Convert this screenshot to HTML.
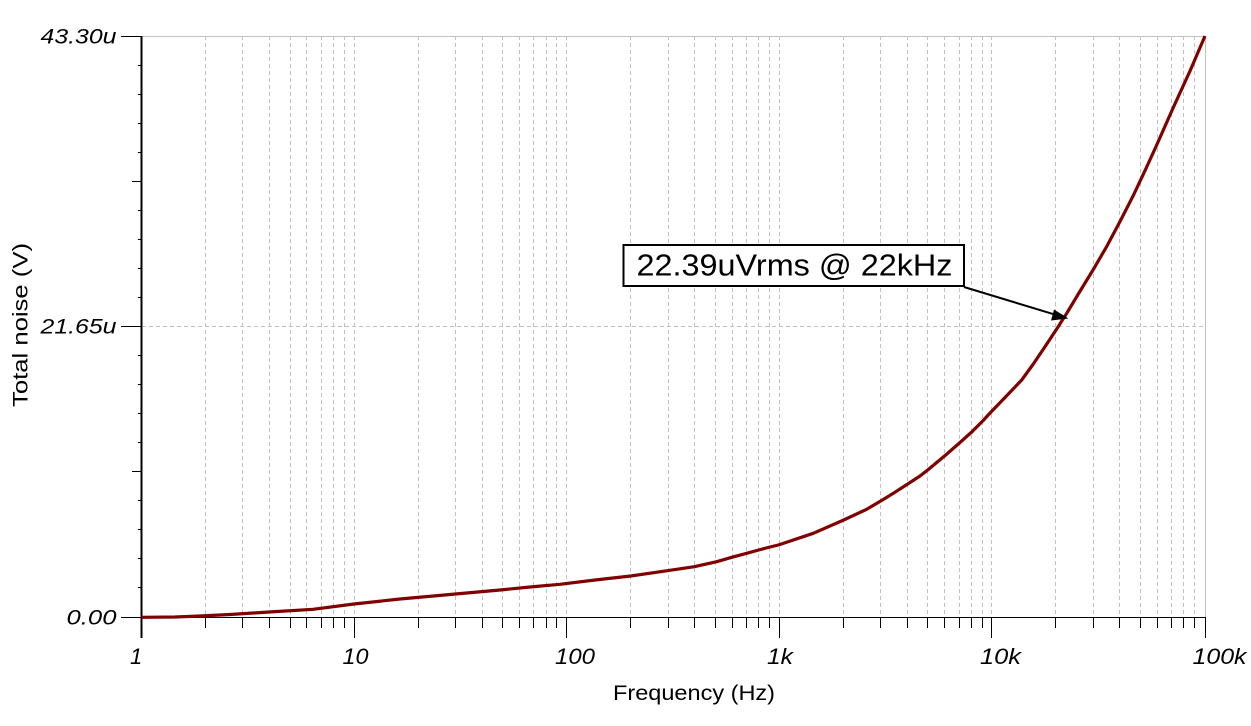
<!DOCTYPE html>
<html>
<head>
<meta charset="utf-8">
<style>
html,body{margin:0;padding:0;background:#fff;}
svg{display:block;}
text{font-family:"Liberation Sans",Arial,sans-serif;fill:#000;}
.tl{font-style:italic;font-size:22px;}
.yl{font-style:italic;font-size:21.5px;}
.ttl{font-size:21px;}
.grid line{stroke:#c0c0c0;stroke-width:1;stroke-dasharray:4 3;}
.tk line{stroke:#000;stroke-width:1;}
</style>
</head>
<body>
<svg width="1251" height="726" viewBox="0 0 1251 726" xmlns="http://www.w3.org/2000/svg" shape-rendering="crispEdges">
<rect x="0" y="0" width="1251" height="726" fill="#fff"/>
<g class="grid">
<line x1="205.5" y1="36" x2="205.5" y2="617"/>
<line x1="242.5" y1="36" x2="242.5" y2="617"/>
<line x1="269.5" y1="36" x2="269.5" y2="617"/>
<line x1="290.5" y1="36" x2="290.5" y2="617"/>
<line x1="306.5" y1="36" x2="306.5" y2="617"/>
<line x1="321.5" y1="36" x2="321.5" y2="617"/>
<line x1="333.5" y1="36" x2="333.5" y2="617"/>
<line x1="344.5" y1="36" x2="344.5" y2="617"/>
<line x1="354.5" y1="36" x2="354.5" y2="617"/>
<line x1="418.5" y1="36" x2="418.5" y2="617"/>
<line x1="455.5" y1="36" x2="455.5" y2="617"/>
<line x1="482.5" y1="36" x2="482.5" y2="617"/>
<line x1="502.5" y1="36" x2="502.5" y2="617"/>
<line x1="519.5" y1="36" x2="519.5" y2="617"/>
<line x1="533.5" y1="36" x2="533.5" y2="617"/>
<line x1="546.5" y1="36" x2="546.5" y2="617"/>
<line x1="556.5" y1="36" x2="556.5" y2="617"/>
<line x1="566.5" y1="36" x2="566.5" y2="617"/>
<line x1="630.5" y1="36" x2="630.5" y2="617"/>
<line x1="668.5" y1="36" x2="668.5" y2="617"/>
<line x1="694.5" y1="36" x2="694.5" y2="617"/>
<line x1="715.5" y1="36" x2="715.5" y2="617"/>
<line x1="732.5" y1="36" x2="732.5" y2="617"/>
<line x1="746.5" y1="36" x2="746.5" y2="617"/>
<line x1="758.5" y1="36" x2="758.5" y2="617"/>
<line x1="769.5" y1="36" x2="769.5" y2="617"/>
<line x1="779.5" y1="36" x2="779.5" y2="617"/>
<line x1="843.5" y1="36" x2="843.5" y2="617"/>
<line x1="880.5" y1="36" x2="880.5" y2="617"/>
<line x1="907.5" y1="36" x2="907.5" y2="617"/>
<line x1="927.5" y1="36" x2="927.5" y2="617"/>
<line x1="944.5" y1="36" x2="944.5" y2="617"/>
<line x1="959.5" y1="36" x2="959.5" y2="617"/>
<line x1="971.5" y1="36" x2="971.5" y2="617"/>
<line x1="982.5" y1="36" x2="982.5" y2="617"/>
<line x1="991.5" y1="36" x2="991.5" y2="617"/>
<line x1="1055.5" y1="36" x2="1055.5" y2="617"/>
<line x1="1093.5" y1="36" x2="1093.5" y2="617"/>
<line x1="1119.5" y1="36" x2="1119.5" y2="617"/>
<line x1="1140.5" y1="36" x2="1140.5" y2="617"/>
<line x1="1157.5" y1="36" x2="1157.5" y2="617"/>
<line x1="1171.5" y1="36" x2="1171.5" y2="617"/>
<line x1="1183.5" y1="36" x2="1183.5" y2="617"/>
<line x1="1194.5" y1="36" x2="1194.5" y2="617"/>
<line x1="142" y1="326.5" x2="1205" y2="326.5"/>
</g>
<line x1="141" y1="36.5" x2="1205.5" y2="36.5" stroke="#c0c0c0" stroke-width="1"/>
<line x1="1205.5" y1="36" x2="1205.5" y2="617" stroke="#c0c0c0" stroke-width="1"/>
<line x1="141.5" y1="36" x2="141.5" y2="638" stroke="#000" stroke-width="2"/>
<line x1="141" y1="617.5" x2="1206" y2="617.5" stroke="#000" stroke-width="1"/>
<g class="tk">
<line x1="205.5" y1="617" x2="205.5" y2="628"/>
<line x1="242.5" y1="617" x2="242.5" y2="628"/>
<line x1="269.5" y1="617" x2="269.5" y2="628"/>
<line x1="290.5" y1="617" x2="290.5" y2="628"/>
<line x1="306.5" y1="617" x2="306.5" y2="628"/>
<line x1="321.5" y1="617" x2="321.5" y2="628"/>
<line x1="333.5" y1="617" x2="333.5" y2="628"/>
<line x1="344.5" y1="617" x2="344.5" y2="628"/>
<line x1="354.5" y1="617" x2="354.5" y2="638"/>
<line x1="418.5" y1="617" x2="418.5" y2="628"/>
<line x1="455.5" y1="617" x2="455.5" y2="628"/>
<line x1="482.5" y1="617" x2="482.5" y2="628"/>
<line x1="502.5" y1="617" x2="502.5" y2="628"/>
<line x1="519.5" y1="617" x2="519.5" y2="628"/>
<line x1="533.5" y1="617" x2="533.5" y2="628"/>
<line x1="546.5" y1="617" x2="546.5" y2="628"/>
<line x1="556.5" y1="617" x2="556.5" y2="628"/>
<line x1="566.5" y1="617" x2="566.5" y2="638"/>
<line x1="630.5" y1="617" x2="630.5" y2="628"/>
<line x1="668.5" y1="617" x2="668.5" y2="628"/>
<line x1="694.5" y1="617" x2="694.5" y2="628"/>
<line x1="715.5" y1="617" x2="715.5" y2="628"/>
<line x1="732.5" y1="617" x2="732.5" y2="628"/>
<line x1="746.5" y1="617" x2="746.5" y2="628"/>
<line x1="758.5" y1="617" x2="758.5" y2="628"/>
<line x1="769.5" y1="617" x2="769.5" y2="628"/>
<line x1="779.5" y1="617" x2="779.5" y2="638"/>
<line x1="843.5" y1="617" x2="843.5" y2="628"/>
<line x1="880.5" y1="617" x2="880.5" y2="628"/>
<line x1="907.5" y1="617" x2="907.5" y2="628"/>
<line x1="927.5" y1="617" x2="927.5" y2="628"/>
<line x1="944.5" y1="617" x2="944.5" y2="628"/>
<line x1="959.5" y1="617" x2="959.5" y2="628"/>
<line x1="971.5" y1="617" x2="971.5" y2="628"/>
<line x1="982.5" y1="617" x2="982.5" y2="628"/>
<line x1="991.5" y1="617" x2="991.5" y2="638"/>
<line x1="1055.5" y1="617" x2="1055.5" y2="628"/>
<line x1="1093.5" y1="617" x2="1093.5" y2="628"/>
<line x1="1119.5" y1="617" x2="1119.5" y2="628"/>
<line x1="1140.5" y1="617" x2="1140.5" y2="628"/>
<line x1="1157.5" y1="617" x2="1157.5" y2="628"/>
<line x1="1171.5" y1="617" x2="1171.5" y2="628"/>
<line x1="1183.5" y1="617" x2="1183.5" y2="628"/>
<line x1="1194.5" y1="617" x2="1194.5" y2="628"/>
<line x1="1205.5" y1="617" x2="1205.5" y2="638"/>
</g>
<g class="tk">
<line x1="121" y1="36.5" x2="141" y2="36.5"/>
<line x1="138" y1="65.5" x2="141" y2="65.5"/>
<line x1="138" y1="94.5" x2="141" y2="94.5"/>
<line x1="138" y1="123.5" x2="141" y2="123.5"/>
<line x1="138" y1="152.5" x2="141" y2="152.5"/>
<line x1="132" y1="181.5" x2="141" y2="181.5"/>
<line x1="138" y1="210.5" x2="141" y2="210.5"/>
<line x1="138" y1="239.5" x2="141" y2="239.5"/>
<line x1="138" y1="268.5" x2="141" y2="268.5"/>
<line x1="138" y1="297.5" x2="141" y2="297.5"/>
<line x1="121" y1="326.5" x2="141" y2="326.5"/>
<line x1="138" y1="355.5" x2="141" y2="355.5"/>
<line x1="138" y1="384.5" x2="141" y2="384.5"/>
<line x1="138" y1="413.5" x2="141" y2="413.5"/>
<line x1="138" y1="442.5" x2="141" y2="442.5"/>
<line x1="132" y1="471.5" x2="141" y2="471.5"/>
<line x1="138" y1="500.5" x2="141" y2="500.5"/>
<line x1="138" y1="529.5" x2="141" y2="529.5"/>
<line x1="138" y1="558.5" x2="141" y2="558.5"/>
<line x1="138" y1="587.5" x2="141" y2="587.5"/>
<line x1="121" y1="617.5" x2="141" y2="617.5"/>
</g>
<polyline fill="none" stroke="#800000" stroke-width="3.2" stroke-linejoin="round" shape-rendering="geometricPrecision"
points="141.7,617.3 175,617 200,616 230,614.5 269,612 313,609.3 354,604 400,599 450,594.5 500,590 530,587 560,584.3 595,580 630.7,576 667.3,570.7 694.3,566.7 716.7,561.7 731.7,557.3 746.7,553.3 758.7,550 770,547 778.3,545 813.3,533.3 843.7,520 866.7,509.3 880.7,501 893.3,493.3 907.7,484 920,476 927.7,470 945.7,455 960,442.5 971.7,432 982.7,421 991,412 1005,397.5 1021.7,380 1033.3,364 1045,346.7 1056.7,329 1066.7,313.3 1078.3,294 1093.3,269.5 1106.7,246.5 1120,221.5 1133.3,195.5 1146,168.5 1156.7,145 1173.3,107.5 1190,71 1205,36"/>
<rect x="623.5" y="245" width="340.5" height="41" fill="#fff" stroke="#000" stroke-width="2"/>
<text x="636.5" y="275.5" style="font-size:31px;" textLength="316" lengthAdjust="spacingAndGlyphs">22.39uVrms @ 22kHz</text>
<line x1="964" y1="287" x2="1054" y2="314.3" stroke="#000" stroke-width="2" shape-rendering="geometricPrecision"/>
<polygon points="1068.5,318.5 1051,320.5 1054,309.5" fill="#000" shape-rendering="geometricPrecision"/>
<text class="yl" x="116.5" y="43.5" text-anchor="end" textLength="76" lengthAdjust="spacingAndGlyphs">43.30u</text>
<text class="yl" x="116.5" y="333.5" text-anchor="end" textLength="76" lengthAdjust="spacingAndGlyphs">21.65u</text>
<text class="yl" x="116.5" y="624.5" text-anchor="end" textLength="50" lengthAdjust="spacingAndGlyphs">0.00</text>
<text class="tl" x="130" y="664">1</text>
<text class="tl" x="342.5" y="664" textLength="26" lengthAdjust="spacingAndGlyphs">10</text>
<text class="tl" x="555" y="664" textLength="40" lengthAdjust="spacingAndGlyphs">100</text>
<text class="tl" x="767" y="664" textLength="26" lengthAdjust="spacingAndGlyphs">1k</text>
<text class="tl" x="980" y="664" textLength="41" lengthAdjust="spacingAndGlyphs">10k</text>
<text class="tl" x="1192.5" y="664" textLength="54" lengthAdjust="spacingAndGlyphs">100k</text>
<text class="ttl" x="613" y="700" textLength="162" lengthAdjust="spacingAndGlyphs">Frequency (Hz)</text>
<text class="ttl" x="0" y="0" transform="translate(27.5,407) rotate(-90)" textLength="164" lengthAdjust="spacingAndGlyphs">Total noise (V)</text>
</svg>
</body>
</html>
